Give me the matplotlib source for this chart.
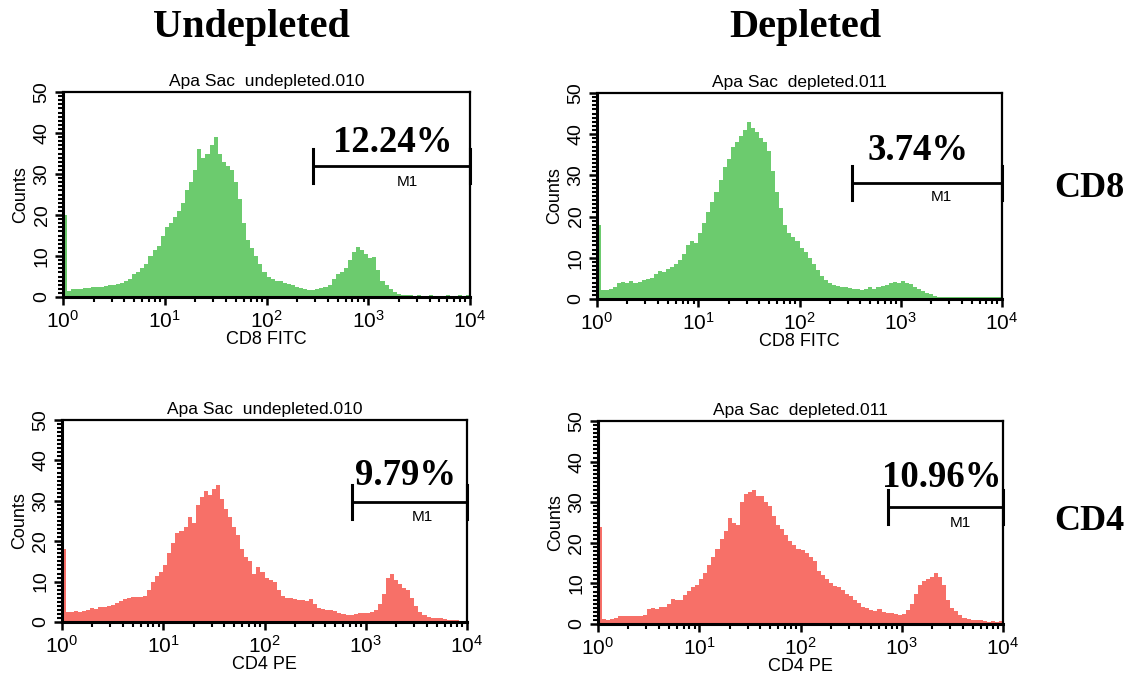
import numpy as np
import matplotlib
matplotlib.use("Agg")
import matplotlib.pyplot as plt
from matplotlib.ticker import LogLocator, MultipleLocator, NullFormatter

plt.rcParams['font.family'] = ['Liberation Sans', 'DejaVu Sans']
plt.rcParams['mathtext.fontset'] = 'custom'
plt.rcParams['mathtext.rm'] = 'Liberation Sans'

# conteos por canal (100 canales log, 10^0 .. 10^4)
cd8_undepleted = [20, 1.5, 2, 2, 2, 2.2, 2.2, 2.4, 2.5, 2.5,
                  2.8, 3, 3, 3.2, 3.5, 4, 4.5, 5.5, 6, 7,
                  8, 10, 11.5, 12.5, 15, 17, 18, 19.5, 21, 23,
                  26, 28, 31, 36, 34, 35, 37, 39, 35, 33,
                  32, 31, 28, 24, 18, 14, 12, 10, 8, 6,
                  5, 4.5, 4, 4, 3.5, 3.2, 3, 2.5, 2.2, 2,
                  1.8, 1.8, 2, 2.2, 2.5, 3, 4.5, 5.5, 6, 7,
                  9, 11, 12.2, 11.5, 10.5, 9.5, 9.8, 6.5, 4, 3,
                  2, 1.2, 0.8, 0.5, 0.4, 0.4, 0.3, 0.4, 0.3, 0.3,
                  0.4, 0.3, 0.3, 0.3, 0.4, 0.3, 0.3, 0.4, 0.3, 0.5]

cd8_depleted = [18, 2.2, 2.2, 2.4, 3, 3.8, 4.2, 4, 4.3, 4,
                4.2, 4.5, 4.8, 5.2, 6, 6.8, 6.5, 7.2, 7.8, 8.5,
                9.5, 11, 13, 14, 13.5, 16, 18.5, 21, 23.5, 26,
                29, 32, 34, 37, 38, 39.5, 41, 43, 41.5, 40.5,
                39, 38, 36, 31, 26, 22, 18, 16, 15, 14,
                12.5, 11.5, 10, 8.5, 7, 5.5, 4.5, 4, 3.5, 3.2,
                3, 2.8, 2.6, 2.5, 2.4, 2.3, 2.4, 2.8, 2.5, 3,
                3.2, 3.5, 3.8, 4.2, 4, 4.3, 4, 3.6, 3, 2.5,
                2, 1.5, 1.1, 0.7, 0.5, 0.5, 0.4, 0.5, 0.4, 0.4,
                0.5, 0.4, 0.4, 0.5, 0.4, 0.4, 0.5, 0.4, 0.5, 0.6]

cd4_undepleted = [18, 2.5, 2.4, 2.6, 2.4, 2.8, 3, 3.5, 3.3, 3.6,
                  3.8, 4, 4.3, 4.8, 5.3, 5.8, 6, 6.2, 6.2, 6.3,
                  6.4, 8, 9.8, 11.5, 12.5, 14, 17, 19.5, 22, 22.5,
                  23.5, 26, 24.5, 29, 31, 32.5, 31.5, 33, 34, 30.5,
                  28, 26, 23.5, 21.5, 18, 16, 15, 12, 13.5, 12.5,
                  11, 10.5, 10, 8, 6.5, 6, 6, 5.8, 5.5, 5.5,
                  5.2, 5.8, 4.5, 3.5, 3.2, 3, 3, 2.6, 2.3, 2,
                  1.8, 1.8, 2, 2.2, 2.2, 2.3, 2.5, 3, 4.5, 7,
                  11, 12, 10.5, 9.5, 8.5, 7.8, 6, 4, 2.5, 1.8,
                  1.2, 1, 1, 0.9, 0.8, 0.6, 0.5, 0.4, 0.3, 0.3]

cd4_depleted = [24, 1.2, 1, 1.2, 1.5, 2, 2, 2, 1.9, 2,
                2, 2.2, 3.8, 4, 3.8, 4.2, 4.3, 5, 6.2, 5.8,
                6, 7.2, 8.2, 9, 9.5, 11, 12.5, 14.5, 16.5, 18.5,
                21, 23, 26, 25, 24.5, 30, 32, 32.5, 33, 31.5,
                31.5, 30, 29, 26.5, 24.5, 23.5, 22, 20.5, 19.5, 18.5,
                18.3, 17.5, 16.5, 15.5, 13, 12, 11, 10, 9.3, 9,
                8.4, 7.5, 6.8, 6, 5.2, 4.3, 4, 3.5, 3.3, 3.8,
                3, 2.8, 2.6, 2.4, 2.3, 2.5, 3.5, 5, 7.5, 9.5,
                10.5, 11, 11.5, 12.5, 11.5, 9.5, 6, 4, 3.2, 2.2,
                1.6, 1.2, 1.1, 1, 1, 0.8, 0.6, 0.8, 0.6, 0.8]

titulos = ['Apa Sac  undepleted.010', 'Apa Sac  depleted.011',
           'Apa Sac  undepleted.010', 'Apa Sac  depleted.011']
etiquetas_x = ['CD8 FITC', 'CD8 FITC', 'CD4 PE', 'CD4 PE']
porcentajes = ['12.24%', '3.74%', '9.79%', '10.96%']
gate_inicio = [286, 330, 730, 730]
gate_fin = [10000, 10000, 10000, 10000]
gate_nivel = [32, 28.2, 29.7, 28.8]

datos = [cd8_undepleted, cd8_depleted, cd4_undepleted, cd4_depleted]
verde = '#6ccb6e'
rojo = '#f77068'
colores = [verde, verde, rojo, rojo]

# posiciones de los ejes en pixeles (izq, der, arriba, abajo)
cajas = [(63, 470, 92, 297), (597, 1002, 93, 299),
         (62, 467, 420, 622), (598, 1003, 421, 624)]
# posicion del texto de porcentaje (log10 x, y) y de M1
pos_pct = [(3.24, 35.4), (3.17, 33.7), (3.39, 33.9), (3.40, 33.7)]
pos_m1 = [(3.38, 28), (3.40, 24.8), (3.56, 26), (3.58, 24.9)]

W, H = 1129, 679
fig = plt.figure(figsize=(W / 100, H / 100), dpi=100)

bordes = np.logspace(0, 4, len(cd8_undepleted) + 1)

for k in range(4):
    l, r, t, b = cajas[k]
    ax = fig.add_axes([l / W, 1 - b / H, (r - l) / W, (b - t) / H])
    ax.stairs(datos[k], bordes, fill=True, color=colores[k], baseline=0)
    ax.set_xscale('log')
    ax.set_xlim(1, 10000)
    ax.set_ylim(0, 50)

    ax.xaxis.set_major_locator(LogLocator(base=10, numticks=10))
    ax.xaxis.set_minor_locator(LogLocator(base=10, subs=np.arange(2, 10), numticks=20))
    ax.xaxis.set_minor_formatter(NullFormatter())
    ax.yaxis.set_major_locator(MultipleLocator(10))
    ax.yaxis.set_minor_locator(MultipleLocator(1))
    ax.tick_params(which='major', direction='out', length=6, width=1.8, pad=2)
    ax.tick_params(which='minor', direction='out', length=3.5, width=1.5)
    ax.tick_params(axis='x', which='major', labelsize=15, pad=3)
    ax.tick_params(axis='y', which='major', labelsize=14, labelrotation=90, pad=3)
    for lab in ax.get_yticklabels():
        lab.set_va('center')
    for s in ax.spines.values():
        s.set_linewidth(1.6)
    ax.spines['left'].set_linewidth(2.2)
    ax.spines['bottom'].set_linewidth(2.2)

    ax.set_title(titulos[k], fontsize=12.5, pad=4)
    ax.set_xlabel(etiquetas_x[k], fontsize=13, labelpad=0)
    ax.set_ylabel('Counts', fontsize=13, labelpad=3)

    # marcador M1
    g0, g1, gy = gate_inicio[k], gate_fin[k], gate_nivel[k]
    ax.plot([g0, g1], [gy, gy], color='black', lw=2, clip_on=False)
    ax.plot([g0, g0], [gy - 4.2, gy + 4.2], color='black', lw=2.2, clip_on=False)
    ax.plot([g1, g1], [gy - 4.2, gy + 4.2], color='black', lw=2.2, clip_on=False)
    ax.text(10 ** pos_m1[k][0], pos_m1[k][1], 'M1', fontsize=11, ha='center', va='center')
    ax.text(10 ** pos_pct[k][0], pos_pct[k][1], porcentajes[k], fontsize=26.5,
            fontweight='bold', family='Liberation Serif', ha='center', va='baseline')

fig.text(251 / W, 1 - 37 / H, 'Undepleted', fontsize=29, fontweight='bold',
         family='Liberation Serif', ha='center', va='baseline')
fig.text(805 / W, 1 - 37 / H, 'Depleted', fontsize=29, fontweight='bold',
         family='Liberation Serif', ha='center', va='baseline')
fig.text(1089 / W, 1 - 197 / H, 'CD8', fontsize=26, fontweight='bold',
         family='Liberation Serif', ha='center', va='baseline')
fig.text(1089 / W, 1 - 530 / H, 'CD4', fontsize=26, fontweight='bold',
         family='Liberation Serif', ha='center', va='baseline')

fig.savefig('out.png', dpi=100)
